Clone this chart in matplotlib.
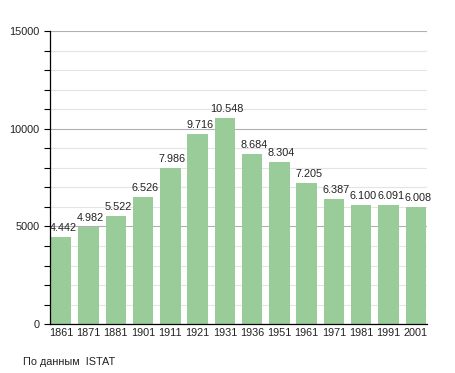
import matplotlib.pyplot as plt
from matplotlib.ticker import MultipleLocator

years = ['1861', '1871', '1881', '1901', '1911', '1921', '1931',
         '1936', '1951', '1961', '1971', '1981', '1991', '2001']
population = [4442, 4982, 5522, 6526, 7986, 9716, 10548,
              8684, 8304, 7205, 6387, 6100, 6091, 6008]
source_note = 'По данным  ISTAT'

plt.rcParams['font.family'] = ['Liberation Sans', 'DejaVu Sans']

fig = plt.figure(figsize=(4.55, 3.73), dpi=100)
ax = fig.add_axes([0.110, 0.131, 0.829, 0.786])

x = list(range(len(years)))
ax.bar(x, population, width=0.75, color='#99cc99', zorder=2)

for xi, v in zip(x, population):
    label = f'{v:,}'.replace(',', '.')
    ax.text(xi + 0.08, v + 200, label, ha='center', va='bottom', fontsize=7.8, color='#222222', zorder=3)

ax.set_xlim(-0.41, 13.42)
ax.set_ylim(0, 15000)
ax.set_xticks(x)
ax.set_xticklabels(years, fontsize=7.8, color='#222222')
ax.tick_params(axis='x', length=0, pad=3)

ax.yaxis.set_major_locator(MultipleLocator(5000))
ax.yaxis.set_minor_locator(MultipleLocator(1000))
ax.tick_params(axis='y', which='both', direction='out', length=4, width=0.8, labelsize=7.8, labelcolor='#222222')
ax.grid(axis='y', which='major', color='#b0b0b0', linewidth=0.8, zorder=0)
ax.grid(axis='y', which='minor', color='#e4e4e4', linewidth=0.8, zorder=0)
ax.set_axisbelow(True)

for side in ['top', 'right']:
    ax.spines[side].set_visible(False)
ax.spines['left'].set_linewidth(0.9)
ax.spines['bottom'].set_linewidth(0.9)

fig.text(23 / 455, 1 - 362 / 373, source_note, fontsize=7.8, color='#222222', va='center')

fig.savefig('out.png', dpi=100)
